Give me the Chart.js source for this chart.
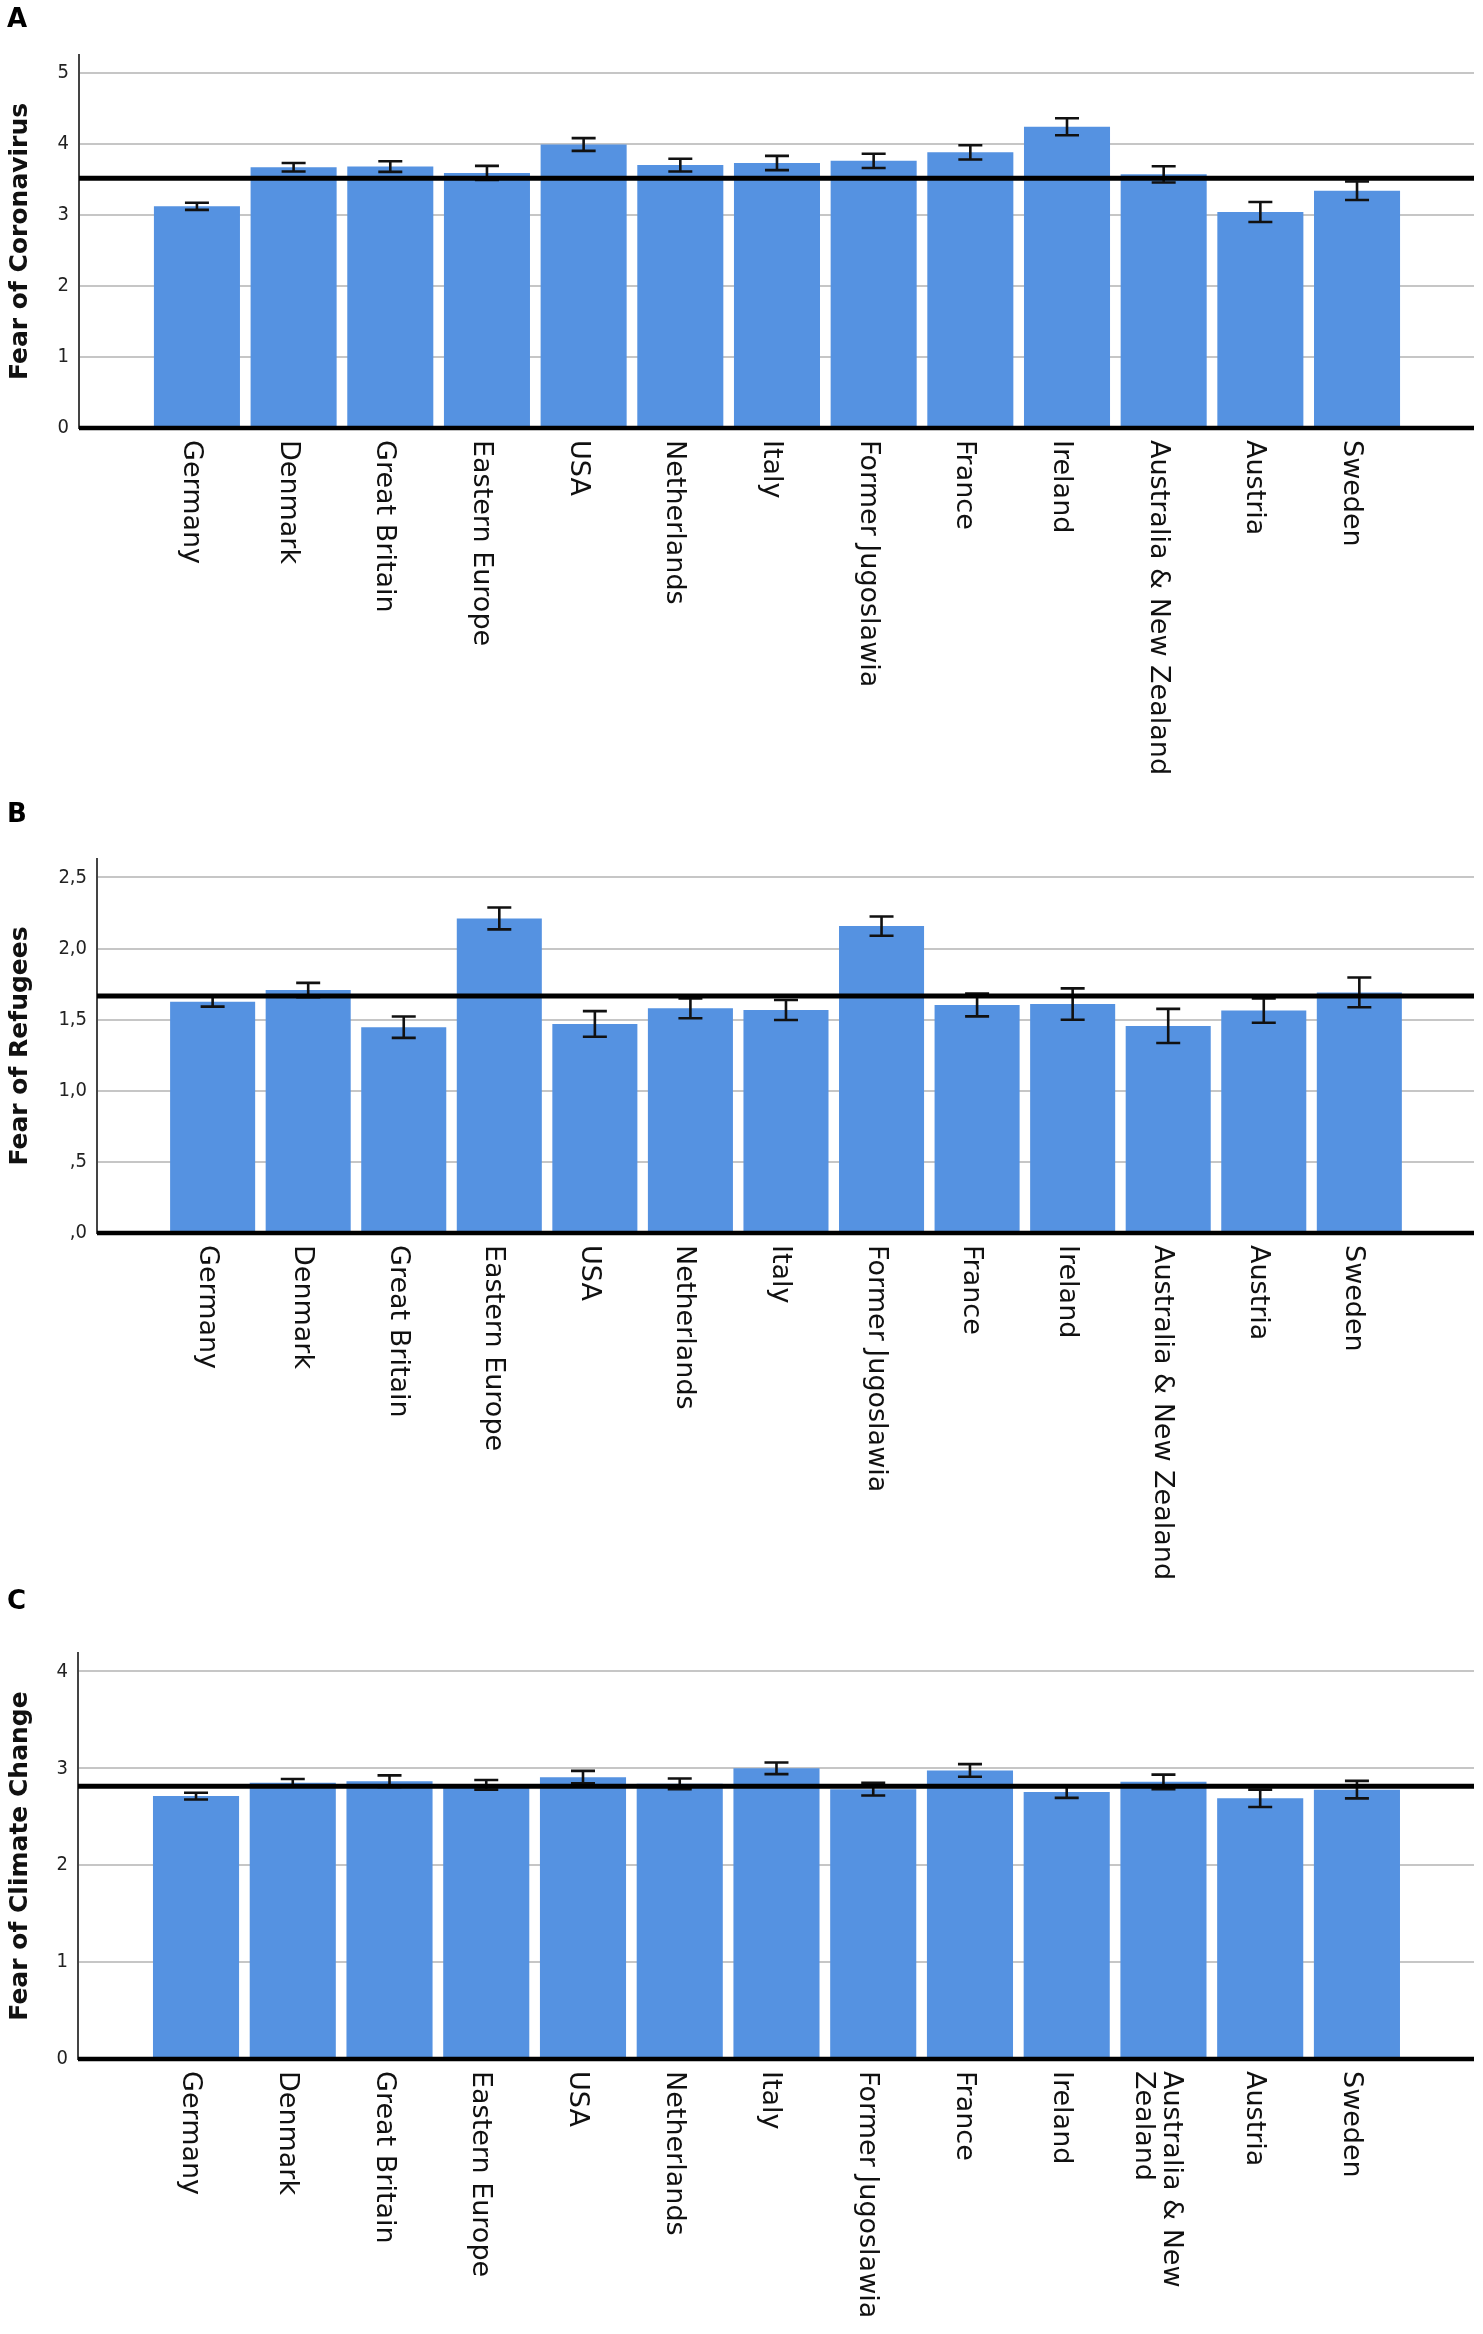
<!DOCTYPE html>
<html>
<head>
<meta charset="utf-8">
<script src="https://cdn.jsdelivr.net/npm/chart.js@4.4.1/dist/chart.umd.min.js"></script>
<style>
  html, body { margin: 0; padding: 0; background: #fff; }
  body { width: 1483px; height: 2334px; position: relative; overflow: hidden; }
  .panel { position: absolute; left: 0; width: 1483px; }
  .letter { position: absolute; left: 7px; font: bold 26px/26px 'DejaVu Sans', sans-serif; color: #000; }
</style>
</head>
<body>
<div class="panel" style="top:0;height:790px"><canvas id="chartA"></canvas></div>
<div class="panel" style="top:790px;height:800px"><canvas id="chartB"></canvas></div>
<div class="panel" style="top:1590px;height:744px"><canvas id="chartC"></canvas></div>
<div class="letter" style="top:5px">A</div>
<div class="letter" style="top:800px">B</div>
<div class="letter" style="top:1587px">C</div>
<script>
// categories
const countries = ['Germany', 'Denmark', 'Great Britain', 'Eastern Europe', 'USA', 'Netherlands', 'Italy',
    'Former Jugoslawia', 'France', 'Ireland', 'Australia & New Zealand', 'Austria', 'Sweden'];
const countriesC = ['Germany', 'Denmark', 'Great Britain', 'Eastern Europe', 'USA', 'Netherlands', 'Italy',
    'Former Jugoslawia', 'France', 'Ireland', ['Australia & New', 'Zealand'], 'Austria', 'Sweden'];

// A - fear of coronavirus (means, error half-widths, overall mean)
const coronaMeans = [3.12, 3.67, 3.68, 3.59, 3.99, 3.70, 3.73, 3.76, 3.88, 4.24, 3.57, 3.04, 3.34];
const coronaErr = [0.05, 0.06, 0.075, 0.10, 0.09, 0.09, 0.10, 0.10, 0.10, 0.12, 0.115, 0.14, 0.13];
const coronaRef = 3.515;

// B - fear of refugees
const refugeeMeans = [1.627, 1.709, 1.447, 2.212, 1.47, 1.58, 1.568, 2.158, 1.603, 1.61, 1.456, 1.564, 1.692];
const refugeeErr = [0.035, 0.05, 0.075, 0.077, 0.09, 0.07, 0.07, 0.068, 0.08, 0.11, 0.12, 0.085, 0.105];
const refugeeRef = 1.667;

// C - fear of climate change
const climateMeans = [2.713, 2.85, 2.867, 2.83, 2.909, 2.84, 3.0, 2.785, 2.978, 2.755, 2.86, 2.69, 2.78];
const climateErr = [0.035, 0.04, 0.06, 0.05, 0.065, 0.055, 0.06, 0.065, 0.065, 0.06, 0.075, 0.09, 0.09];
const climateRef = 2.816;

// y ticks
const ticksA = [0, 1, 2, 3, 4, 5];
const tickLabelsA = ['0', '1', '2', '3', '4', '5'];
const ticksB = [0, 0.5, 1, 1.5, 2, 2.5];
const tickLabelsB = [',0', ',5', '1,0', '1,5', '2,0', '2,5'];
const ticksC = [0, 1, 2, 3, 4];
const tickLabelsC = ['0', '1', '2', '3', '4'];

const BAR_COLOR = '#5592e1';

// error bars, overall-mean line, zero line and the rotated country labels
const overlayPlugin = {
    id: 'overlay',
    afterDatasetsDraw(chart) {
        const cfg = chart.options.plugins.overlay;
        const { ctx, chartArea } = chart;
        const x = chart.scales.x, y = chart.scales.y;
        ctx.save();

        ctx.strokeStyle = '#111';
        ctx.lineWidth = 2.6;
        cfg.means.forEach((m, i) => {
            const cx = x.getPixelForValue(i);
            const y1 = y.getPixelForValue(m + cfg.errs[i]);
            const y2 = y.getPixelForValue(m - cfg.errs[i]);
            ctx.beginPath();
            ctx.moveTo(cx, y1); ctx.lineTo(cx, y2);
            ctx.moveTo(cx - 12, y1); ctx.lineTo(cx + 12, y1);
            ctx.moveTo(cx - 12, y2); ctx.lineTo(cx + 12, y2);
            ctx.stroke();
        });

        ctx.strokeStyle = '#000';
        [[cfg.ref, 5], [0, 4.5]].forEach(([v, w]) => {
            const py = y.getPixelForValue(v);
            ctx.lineWidth = w;
            ctx.beginPath();
            ctx.moveTo(chartArea.left, py);
            ctx.lineTo(chartArea.right, py);
            ctx.stroke();
        });

        ctx.fillStyle = '#111';
        ctx.font = '27px "DejaVu Sans", sans-serif';
        ctx.textAlign = 'left';
        ctx.textBaseline = 'alphabetic';
        const lineH = 28;
        cfg.labels.forEach((lab, i) => {
            const lines = Array.isArray(lab) ? lab : [lab];
            const cx = x.getPixelForValue(i);
            ctx.save();
            ctx.translate(cx, chartArea.bottom + 12);
            ctx.rotate(Math.PI / 2);
            lines.forEach((ln, k) => {
                ctx.fillText(ln, 0, 13 - (lines.length - 1) * lineH / 2 + k * lineH);
            });
            ctx.restore();
        });
        ctx.restore();
    }
};

function makeChart(id, p) {
    const ctx = document.getElementById(id);
    return new Chart(ctx, {
        type: 'bar',
        data: {
            datasets: [{
                data: p.means.map((v, i) => ({ x: i, y: v })),
                backgroundColor: BAR_COLOR,
                borderWidth: 0,
                barPercentage: 0.89,
                categoryPercentage: 1.0
            }]
        },
        options: {
            responsive: true,
            maintainAspectRatio: false,
            animation: false,
            layout: { padding: { top: p.top, right: 9, left: 0, bottom: 0 } },
            plugins: {
                legend: { display: false },
                tooltip: { enabled: false },
                overlay: { means: p.means, errs: p.errs, ref: p.ref, labels: p.labels }
            },
            scales: {
                x: {
                    type: 'linear',
                    offset: false,
                    min: p.xMin,
                    max: p.xMax,
                    ticks: { display: false },
                    grid: { display: false, offset: false },
                    border: { display: false },
                    afterFit: s => { s.height = p.xHeight; }
                },
                y: {
                    min: 0,
                    max: p.yMax,
                    afterBuildTicks: s => { s.ticks = p.ticks.map(v => ({ value: v })); },
                    ticks: {
                        callback: (v, i) => p.tickLabels[i],
                        font: { family: "'DejaVu Sans Condensed', 'DejaVu Sans', sans-serif", size: 20 },
                        color: '#222',
                        padding: 10
                    },
                    grid: { color: '#c6c6c6', lineWidth: 2, drawTicks: false },
                    border: { display: true, color: '#444', width: 2 },
                    title: {
                        display: true,
                        text: p.title,
                        color: '#111',
                        font: { family: "'DejaVu Sans', sans-serif", size: 25, weight: 'bold' },
                        padding: { top: 5, bottom: 0 }
                    },
                    afterFit: s => { s.width = p.axisLeft; }
                }
            }
        },
        plugins: [overlayPlugin]
    });
}

makeChart('chartA', {
    labels: countries, means: coronaMeans, errs: coronaErr, ref: coronaRef,
    ticks: ticksA, tickLabels: tickLabelsA, yMax: 5.25, title: 'Fear of Coronavirus',
    axisLeft: 79, top: 55, xHeight: 362, xMin: -1.22, xMax: 13.21
});
makeChart('chartB', {
    labels: countries, means: refugeeMeans, errs: refugeeErr, ref: refugeeRef,
    ticks: ticksB, tickLabels: tickLabelsB, yMax: 2.63, title: 'Fear of Refugees',
    axisLeft: 97, top: 69, xHeight: 357, xMin: -1.21, xMax: 13.2
});
makeChart('chartC', {
    labels: countriesC, means: climateMeans, errs: climateErr, ref: climateRef,
    ticks: ticksC, tickLabels: tickLabelsC, yMax: 4.19, title: 'Fear of Climate Change',
    axisLeft: 78, top: 63, xHeight: 275, xMin: -1.22, xMax: 13.21
});
</script>
</body>
</html>
